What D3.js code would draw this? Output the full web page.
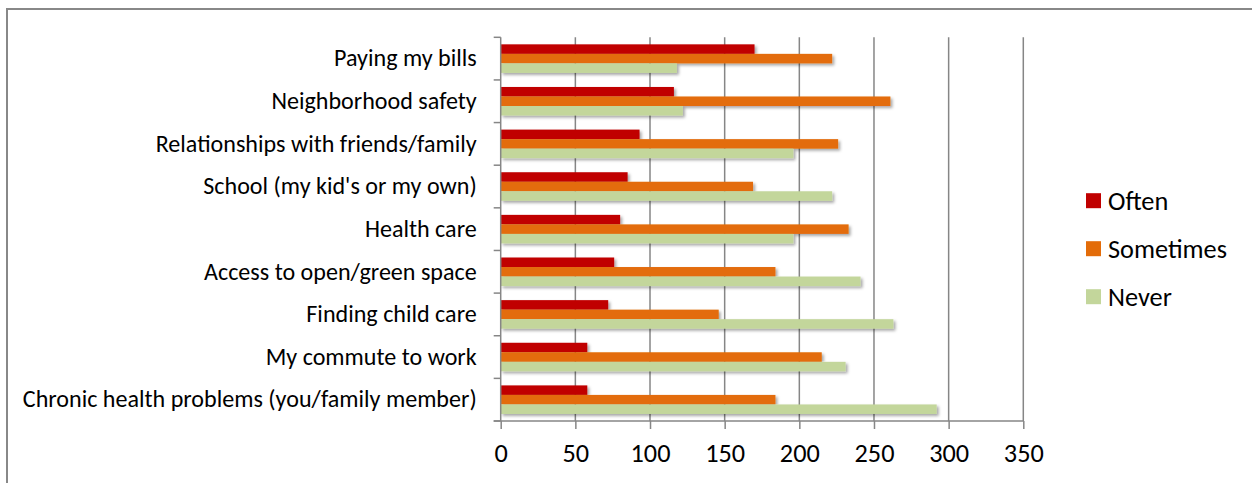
<!DOCTYPE html>
<html><head><meta charset="utf-8">
<script src="https://cdn.jsdelivr.net/npm/d3@7"></script>
<style>body{margin:0;background:#fff;}svg{display:block;}</style>
</head><body>
<svg id="c" width="1252" height="483"></svg>
<script>
const categories = ["Paying my bills","Neighborhood safety","Relationships with friends/family","School (my kid's or my own)","Health care","Access to open/green space","Finding child care","My commute to work","Chronic health problems (you/family member)"];
const seriesNames = ["Often","Sometimes","Never"];
const often = [170,116,93,85,80,76,72,58,58];
const sometimes = [222,261,226,169,233,184,146,215,184];
const never = [118,122,196,222,196,241,263,231,292];
const xTicks = [0,50,100,150,200,250,300,350];
const colors = ["#C00000","#E36C09","#C3D69B"];

const svg = d3.select("#c");
const font = "Carlito, Calibri, 'Open Sans', sans-serif";
const defs = svg.append("defs");
const f = defs.append("filter").attr("id","sh").attr("x","-5%").attr("y","-50%").attr("width","115%").attr("height","250%");
f.append("feDropShadow").attr("dx",2).attr("dy",2).attr("stdDeviation",1.5).attr("flood-color","#000").attr("flood-opacity",0.35);

function fit(sel, target){
  // scale font so the widest text matches target width
  let w = 0; sel.each(function(){ w = Math.max(w, this.getComputedTextLength()); });
  const fs = parseFloat(sel.attr("font-size"));
  sel.attr("font-size", fs*target/w);
}

// frame
svg.append("rect").attr("x",7).attr("y",9).attr("width",1260).attr("height",490).attr("fill","none").attr("stroke","#888").attr("stroke-width",2);

const L=500.7, R=1023.3, T=37.3, B=421;
const x = d3.scaleLinear().domain([0,350]).range([L,R]);
const y = d3.scaleBand().domain(categories).range([T,B]).paddingInner(0.33).paddingOuter(0.165);
const ys = d3.scaleBand().domain(seriesNames).range([0,y.bandwidth()]);

// gridlines
svg.append("g").selectAll("line").data(xTicks.slice(1)).join("line")
  .attr("x1",d=>x(d)).attr("x2",d=>x(d)).attr("y1",T).attr("y2",B)
  .attr("stroke","#868686").attr("stroke-width",1.5);

const data = [often,sometimes,never];
const g = svg.append("g").attr("filter","url(#sh)");
seriesNames.forEach((s,si)=>{
  g.selectAll(null).data(categories).join("rect")
   .attr("x",x(0)).attr("y",(c)=>y(c)+ys(s))
   .attr("width",(c,i)=>x(data[si][i])-x(0)).attr("height",ys.bandwidth())
   .attr("fill",colors[si]);
});

// y axis
const yAxis = d3.axisLeft(y).tickSize(0).tickPadding(24);
const ya = svg.append("g").attr("transform",`translate(${L},0)`).call(yAxis);
ya.select(".domain").remove();
ya.selectAll("text").attr("font-family",font).attr("font-size",18).attr("fill","#000");
fit(ya.selectAll("text"), 454);
const yb = [T, ...categories.map(c=>y(c)+y.bandwidth()+y.step()*y.paddingInner()/2).slice(0,-1), B];
svg.append("line").attr("x1",L).attr("x2",L).attr("y1",T).attr("y2",B).attr("stroke","#868686").attr("stroke-width",1.5);
svg.append("g").selectAll("line").data(yb).join("line").attr("x1",L-7).attr("x2",L).attr("y1",d=>d).attr("y2",d=>d).attr("stroke","#868686").attr("stroke-width",1.5);

// x axis
const xa = svg.append("g").attr("transform",`translate(0,${B})`).call(d3.axisBottom(x).tickValues(xTicks).tickSize(8).tickPadding(14));
xa.select(".domain").attr("d",`M${L-7},0H${R}`).attr("stroke","#868686").attr("stroke-width",1.5);
xa.selectAll(".tick line").attr("stroke","#868686").attr("stroke-width",1.5);
xa.selectAll("text").attr("font-family",font).attr("font-size",20).attr("fill","#000");
fit(xa.selectAll("text"), 40);

// legend
const lg = svg.append("g");
seriesNames.forEach((s,i)=>{
  const cy = 200.7 + i*48;
  lg.append("rect").attr("x",1086).attr("y",cy-7.5).attr("width",15).attr("height",15).attr("fill",colors[i]);
  lg.append("text").attr("x",1108).attr("y",cy).attr("dy","0.35em").attr("font-family",font).attr("font-size",20).text(s);
});
fit(lg.selectAll("text"), 119);
</script>
</body></html>
